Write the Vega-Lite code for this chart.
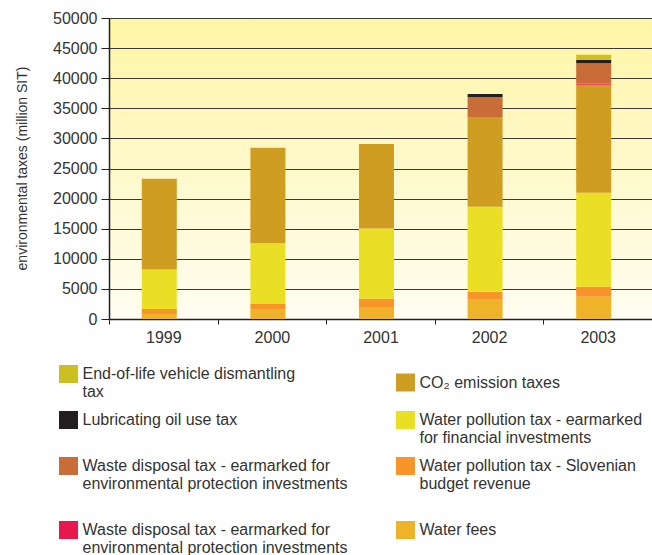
{
  "$schema": "https://vega.github.io/schema/vega-lite/v6.json",
  "autosize": "none",
  "width": 543,
  "height": 301,
  "padding": {"left": 109, "top": 18, "right": 0, "bottom": 236},
  "background": "#ffffff",
  "config": {
    "font": "Liberation Sans",
    "view": {
      "stroke": null,
      "fill": {"gradient": "linear", "x1": 0, "y1": 0, "x2": 0, "y2": 1,
        "stops": [{"offset": 0, "color": "#FFF5A5"}, {"offset": 1, "color": "#FFFDF1"}]}
    }
  },
  "data": {
    "values": [
      {"year": "1999", "cat": "wf", "value": 840},
      {"year": "1999", "cat": "wps", "value": 840},
      {"year": "1999", "cat": "wpf", "value": 6530},
      {"year": "1999", "cat": "co2", "value": 15080},
      {"year": "2000", "cat": "wf", "value": 1680},
      {"year": "2000", "cat": "wps", "value": 830},
      {"year": "2000", "cat": "wpf", "value": 10060},
      {"year": "2000", "cat": "co2", "value": 15860},
      {"year": "2001", "cat": "wf", "value": 2010},
      {"year": "2001", "cat": "wps", "value": 1340},
      {"year": "2001", "cat": "wpf", "value": 11700},
      {"year": "2001", "cat": "co2", "value": 14040},
      {"year": "2002", "cat": "wf", "value": 3180},
      {"year": "2002", "cat": "wps", "value": 1350},
      {"year": "2002", "cat": "wpf", "value": 14120},
      {"year": "2002", "cat": "co2", "value": 14910},
      {"year": "2002", "cat": "wdb", "value": 3330},
      {"year": "2002", "cat": "lub", "value": 500},
      {"year": "2003", "cat": "wf", "value": 3690},
      {"year": "2003", "cat": "wps", "value": 1670},
      {"year": "2003", "cat": "wpf", "value": 15610},
      {"year": "2003", "cat": "co2", "value": 17960},
      {"year": "2003", "cat": "wdr", "value": 150},
      {"year": "2003", "cat": "wdb", "value": 3390},
      {"year": "2003", "cat": "lub", "value": 560},
      {"year": "2003", "cat": "veh", "value": 850}
    ]
  },
  "transform": [
    {"lookup": "cat", "from": {"data": {"values": [
      {"cat": "wf", "stack": 1}, {"cat": "wps", "stack": 2}, {"cat": "wpf", "stack": 3},
      {"cat": "co2", "stack": 4}, {"cat": "wdr", "stack": 5}, {"cat": "wdb", "stack": 6},
      {"cat": "lub", "stack": 7}, {"cat": "veh", "stack": 8}]}, "key": "cat", "fields": ["stack"]}}
  ],
  "mark": {"type": "bar", "size": 35, "xOffset": -4},
  "encoding": {
    "x": {
      "field": "year", "type": "nominal",
      "scale": {"paddingInner": 0, "paddingOuter": 0},
      "axis": {
        "title": null, "labelAngle": 0, "labelFontSize": 16, "labelColor": "#333333",
        "labelPadding": 5, "tickBand": "extent", "tickSize": 5, "tickColor": "#222222",
        "domainColor": "#222222", "domainWidth": 1.5, "grid": false
      }
    },
    "y": {
      "field": "value", "type": "quantitative", "aggregate": "sum",
      "scale": {"domain": [0, 50000], "nice": false},
      "axis": {
        "title": "environmental taxes (million SIT)",
        "titleFontSize": 14, "titleFontWeight": "normal", "titleColor": "#333333",
        "titleX": -87, "titleY": 150, "titleAngle": -90, "titleBaseline": "middle", "titleAlign": "center",
        "values": [0, 5000, 10000, 15000, 20000, 25000, 30000, 35000, 40000, 45000, 50000],
        "format": "d", "labelFontSize": 16, "labelColor": "#333333", "labelPadding": 4,
        "tickSize": 8, "tickColor": "#222222", "domainColor": "#222222", "domainWidth": 1.5,
        "grid": true, "gridColor": "#3a3a3a", "gridWidth": 1, "gridOpacity": 1
      }
    },
    "color": {
      "field": "cat", "type": "nominal",
      "scale": {
        "domain": ["veh", "lub", "wdb", "wdr", "co2", "wpf", "wps", "wf"],
        "range": ["#CDBF22", "#231F20", "#C96D38", "#E8174E", "#D09D23", "#EADF25", "#F7942A", "#EFB32A"]
      },
      "legend": {
        "title": null, "orient": "none", "legendX": -50.5, "legendY": 351,
        "direction": "vertical",
        "columns": 2, "columnPadding": 47, "rowPadding": 11, "padding": 0,
        "symbolType": "M-0.95,-1.4H0.95V0.4H-0.95Z", "symbolSize": 400, "symbolStrokeWidth": 0, "symbolOpacity": 1,
        "labelFontSize": 16, "labelColor": "#333333", "labelOffset": 4, "labelLimit": 400,
        "labelBaseline": "alphabetic",
        "labelExpr": "datum.value == 'veh' ? ['End-of-life vehicle dismantling', 'tax'] : datum.value == 'co2' ? 'CO₂ emission taxes' : datum.value == 'lub' ? 'Lubricating oil use tax' : datum.value == 'wpf' ? ['Water pollution tax - earmarked', 'for financial investments'] : datum.value == 'wdb' ? ['Waste disposal tax - earmarked for', 'environmental protection investments', ''] : datum.value == 'wps' ? ['Water pollution tax - Slovenian', 'budget revenue'] : datum.value == 'wdr' ? ['Waste disposal tax - earmarked for', 'environmental protection investments'] : 'Water fees'"
      }
    },
    "order": {"field": "stack", "type": "quantitative", "sort": "ascending"}
  }
}
